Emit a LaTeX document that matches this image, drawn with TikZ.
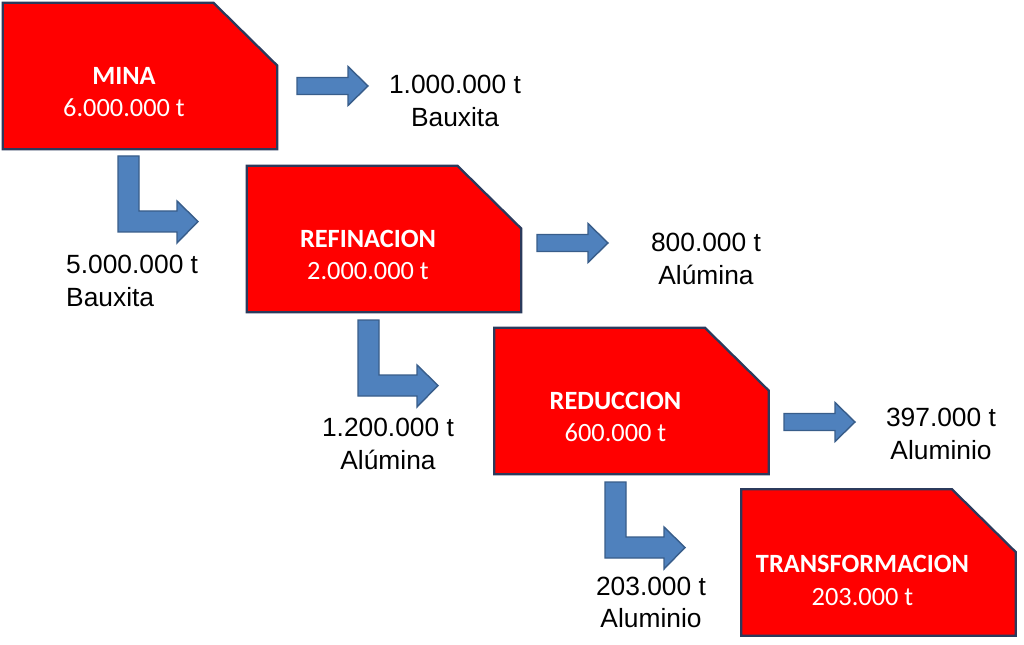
\documentclass[tikz,border=0pt]{standalone}
\usepackage{fontspec}
\setmainfont{Liberation Sans}
\newfontfamily\boxfont{Carlito}
\usepackage{tikz}
\usetikzlibrary{positioning}
\definecolor{stage_red}{HTML}{FF0000}
\definecolor{stage_edge}{HTML}{2B3A5C}
\definecolor{flow_blue}{HTML}{4F81BD}
\definecolor{flow_edge}{HTML}{385D8A}

\begin{document}
\begin{tikzpicture}[
        x=0.02cm, y=-0.02cm,
        stage/.style={rectangle, minimum width=5.48cm, minimum height=2.92cm, inner sep=0pt},
        outline/.style={fill=stage_red, draw=stage_edge, line width=1.3pt},
        stagetext/.style={font=\boxfont\fontsize{15}{18.7}\selectfont, text=white, align=center},
        amount/.style={font=\fontsize{15}{18.3}\selectfont, align=center},
        flow/.style={fill=flow_blue, draw=flow_edge, line width=0.8pt},
    ]
        \fill[white] (0,0) rectangle (1024,645);

        % Stages
        \node[stage] (mina) at (140,76) {};
        \node[stage] (refin) at (384,239) {};
        \node[stage] (reduc) at (631.5,401) {};
        \node[stage] (transf) at (878.5,562.5) {};

        \foreach \s in {mina, refin, reduc, transf}
            \draw[outline] (\s.south west) -- (\s.north west) -- ([xshift=-1.28cm]\s.north east)
                -- ([yshift=-1.26cm]\s.north east) -- (\s.south east) -- cycle;

        \node[stagetext] (mina_t) at ([xshift=-0.32cm, yshift=-0.32cm]mina.center) {\textbf{MINA}\\6.000.000 t};
        \node[stagetext] (refin_t) at ([xshift=-0.32cm, yshift=-0.32cm]refin.center) {\textbf{REFINACION}\\2.000.000 t};
        \node[stagetext] (reduc_t) at ([xshift=-0.32cm, yshift=-0.32cm]reduc.center) {\textbf{REDUCCION}\\600.000 t};
        \node[stagetext] (transf_t) at ([xshift=-0.32cm, yshift=-0.36cm]transf.center) {\textbf{TRANSFORMACION}\\203.000 t};

        % Straight arrows
        \foreach \x/\y in {297/86, 537/243, 784/422}
            \draw[flow] (\x,\y) ++(0,-8.5) -- ++(51,0) -- ++(0,-11) -- ++(20,19.5)
                -- ++(-20,19.5) -- ++(0,-11) -- ++(-51,0) -- cycle;

        % L arrows
        \foreach \x/\y in {118/156, 358/320, 605/482}
            \draw[flow] (\x,\y) -- ++(21,0) -- ++(0,55) -- ++(38,0) -- ++(0,-10) -- ++(21,20.5)
                -- ++(-21,21.5) -- ++(0,-11) -- ++(-59,0) -- cycle;

        % Amounts
        \node[amount] (mina_out) at (455,101) {1.000.000 t\\Bauxita};
        \node[amount, align=left, anchor=west] (mina_next) at (60,281) {5.000.000 t\\Bauxita};
        \node[amount] (refin_out) at (706,259) {800.000 t\\Alúmina};
        \node[amount] (refin_next) at (388,444) {1.200.000 t\\Alúmina};
        \node[amount] (reduc_out) at (941,434) {397.000 t\\Aluminio};
        \node[amount] (reduc_next) at (651,602) {203.000 t\\Aluminio};
    \end{tikzpicture}
\end{document}
